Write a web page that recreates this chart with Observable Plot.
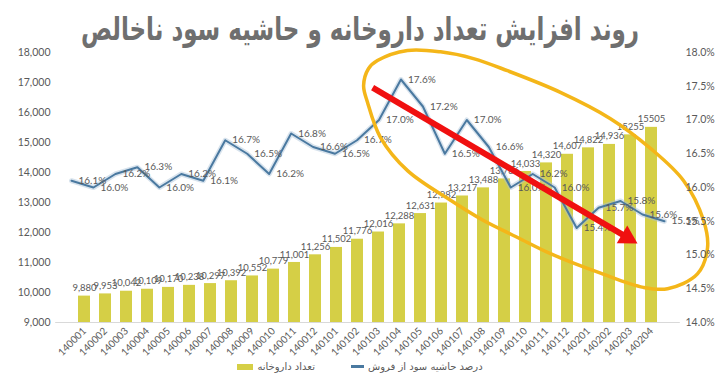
<!DOCTYPE html>
<html><head><meta charset="utf-8">
<script src="https://cdn.jsdelivr.net/npm/d3@7"></script>
<script src="https://cdn.jsdelivr.net/npm/@observablehq/plot@0.6"></script>
<style>
body{margin:0;background:#fff}
#wrap{position:relative;width:720px;height:383px;background:#fff;overflow:hidden}
#title{position:absolute;left:0;top:11px;width:720px;text-align:center;font-family:"DejaVu Sans";font-weight:bold;font-size:23px;color:#6f6f6f;direction:rtl;z-index:5;white-space:nowrap;transform:scaleY(1.4);transform-origin:50% 0}
#legend{position:absolute;left:0;top:361px;width:720px;display:flex;justify-content:center;align-items:center;gap:36px;font-family:"DejaVu Sans";font-size:10px;color:#595959;z-index:5}
#legend .item{display:flex;align-items:center;gap:4px}
#legend .sw1{width:16px;height:6px;background:#d5cf46}
#legend .sw2{width:13px;height:3px;background:#4a79a0}
</style></head><body>
<div id="wrap">
<div id="title">روند افزایش تعداد داروخانه و حاشیه سود ناخالص</div>
<div id="legend">
 <div class="item"><span class="sw1"></span><span dir="rtl">تعداد داروخانه</span></div>
 <div class="item"><span class="sw2"></span><span dir="rtl">درصد حاشیه سود از فروش</span></div>
</div>
</div>
<script>
// ---- data ----
const periods = ["140001","140002","140003","140004","140005","140006","140007","140008","140009","140010","140011","140012",
                 "140101","140102","140103","140104","140105","140106","140107","140108","140109","140110","140111","140112",
                 "140201","140202","140203","140204"];
const pharmacyCounts = [9880,9953,10042,10109,10170,10238,10297,10392,10552,10779,11001,11256,
                        11502,11776,12016,12288,12631,12982,13217,13488,13786,14033,14320,14607,
                        14822,14936,15255,15505];
const countLabels = ["9,880","9,953","10,042","10,109","10,170","10,238","10,297","10,392","10,552","10,779","11,001","11,256",
                     "11,502","11,776","12,016","12,288","12,631","12,982","13,217","13,488","13,786","14,033","14,320","14,607",
                     "14,822","14,936","15255","15505"];
const grossMarginPct = [16.1,16.0,16.2,16.3,16.0,16.2,16.1,16.7,16.5,16.2,16.8,16.6,
                        16.5,16.7,17.0,17.6,17.2,16.5,17.0,16.6,16.0,16.2,16.0,15.4,
                        15.7,15.8,15.6,15.5];
const leftTicks = [9000,10000,11000,12000,13000,14000,15000,16000,17000,18000];
const rightTicks = [14,14.5,15,15.5,16,16.5,17,17.5,18];
// annotation shapes, in (period index, percent) units
const ellipseIdx = [13.93,15.30,16.80,18.30,19.85,22.26,24.54,26.36,27.87,28.78,28.96,28.50,27.14,26.04,24.09,21.81,20.31,18.76,17.26,15.30,14.07,13.48,13.30,13.52];
const ellipsePct = [17.88,18.03,18.01,17.91,17.73,17.41,17.02,16.58,16.10,15.51,15.11,14.72,14.50,14.52,14.73,15.02,15.26,15.51,15.81,16.25,16.74,17.26,17.51,17.76];
const arrowIdx = [13.71, 25.30];
const arrowPct = [17.48, 15.26];

// ---- layout ----
const W = 720, H = 383, MT = 52, MB = 61;
const c0 = 71, cN = 664, pad = 0.44;
const step = (cN - c0) / (periods.length - 1);
const ML = c0 - step * (1 + pad) / 2;
const MR = W - (ML + step * (periods.length + pad));
const font = "'Liberation Sans Narrow', Lato, sans-serif";
const grey = "#595959";

const bars = periods.map((p, i) => ({p, i, count: pharmacyCounts[i], label: countLabels[i], pct: grossMarginPct[i]}));
const ellipse = ellipseIdx.map((x, i) => ({x, y: ellipsePct[i]}));
const arrow = [{x1: arrowIdx[0], y1: arrowPct[0], x2: arrowIdx[1], y2: arrowPct[1]}];
const arrowAngle = Math.atan2(156, 265) * 180 / Math.PI + 90;

const main = Plot.plot({
  width: W, height: H, marginTop: MT, marginBottom: MB, marginLeft: ML, marginRight: MR,
  style: `position:absolute;left:0;top:0;background:transparent;font-family:${font};`,
  x: {type: "band", domain: periods, padding: pad},
  y: {domain: [9000, 18000]},
  marks: [
    Plot.ruleY([9000], {stroke: "#d9d9d9", strokeWidth: 1}),
    Plot.barY(bars, {x: "p", y1: 9000, y2: "count", fill: "#d5cf46"}),
    Plot.text(bars, {x: "p", y: "count", text: "label", dy: -8, fontSize: 9.5, fill: grey}),
    Plot.axisY({ticks: leftTicks, tickFormat: d3.format(","), tickSize: 0, tickPadding: ML - 50, fontSize: 10.5, fill: grey, label: null}),
    Plot.axisX({tickRotate: -45, tickSize: 0, tickPadding: 7, fontSize: 10, fill: grey, label: null})
  ]
});

const over = Plot.plot({
  width: W, height: H, marginTop: MT, marginBottom: MB, marginLeft: c0, marginRight: W - cN,
  style: `position:absolute;left:0;top:0;background:transparent;overflow:visible;font-family:${font};`,
  x: {type: "linear", domain: [0, periods.length - 1], axis: null},
  y: {domain: [14, 18], axis: null},
  marks: [
    Plot.line(bars, {x: "i", y: "pct", stroke: "#a9c2d6", strokeWidth: 5, strokeOpacity: 0.45}),
    Plot.line(bars, {x: "i", y: "pct", stroke: "#4a79a0", strokeWidth: 2}),
    Plot.text(bars, {x: "i", y: "pct", text: d => d.pct.toFixed(1) + "%", dx: 7, textAnchor: "start", fontSize: 10, fill: grey}),
    Plot.line(ellipse, {x: "x", y: "y", curve: "catmull-rom-closed", stroke: "#f4b619", strokeWidth: 3.5}),
    Plot.link(arrow, {x1: "x1", y1: "y1", x2: "x2", y2: "y2", stroke: "#f01010", strokeWidth: 6, strokeLinecap: "butt"}),
    Plot.dot([arrow[0]], {x: "x2", y: "y2", symbol: "triangle", r: 7.7, fill: "#f01010", stroke: "none", rotate: arrowAngle}),
    Plot.axisY({anchor: "right", ticks: rightTicks, tickFormat: d => d.toFixed(1) + "%", tickSize: 0, tickPadding: 685 - cN, fontSize: 10.5, fill: grey, label: null})
  ]
});

const wrap = document.getElementById("wrap");
wrap.insertBefore(main, wrap.firstChild);
wrap.insertBefore(over, main.nextSibling);
</script>
</body></html>
